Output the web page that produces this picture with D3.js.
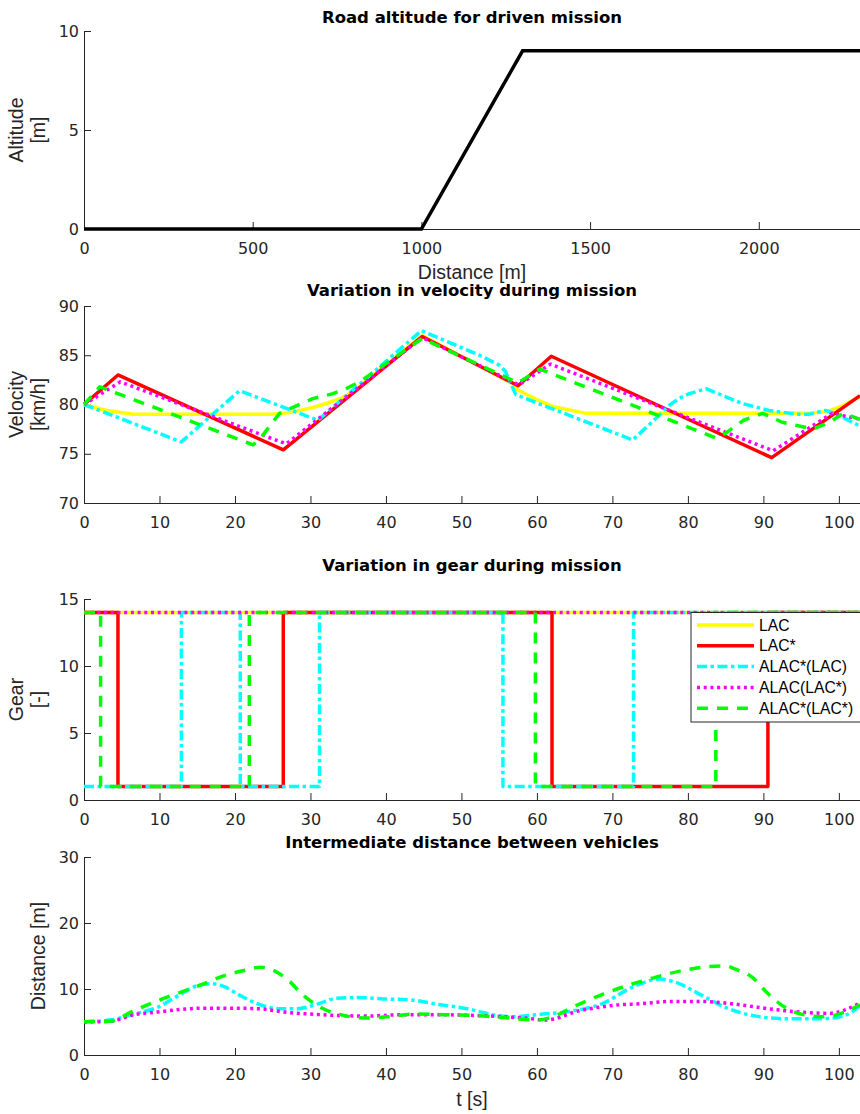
<!DOCTYPE html>
<html>
<head>
<meta charset="utf-8">
<script src="https://cdn.jsdelivr.net/npm/d3@7"></script>
<style>
	body { margin: 0; background: #fff; }
	svg { display: block; }
	.axis path, .axis line { stroke: #262626; stroke-width: 1; }
	.axis text { font-family: "DejaVu Sans", sans-serif; font-size: 16px; fill: #262626; }
	.title { font-family: "DejaVu Sans", sans-serif; font-weight: bold; font-size: 16.5px; fill: #000; }
	.label { font-family: "Liberation Sans", Arial, sans-serif; font-size: 19.5px; fill: #262626; }
	.legend text { font-family: "Liberation Sans", Arial, sans-serif; font-size: 15.7px; fill: #000; }
</style>
</head>
<body>
<svg id="chart" width="860" height="1114"></svg>
<script>
// road profile
const roadDistance = [0, 1000, 1300, 2300];
const roadAltitude = [0, 0, 9, 9];
const roadTicks = [0, 500, 1000, 1500, 2000];

const timeMax = 102.8;
const timeTicks = [0, 10, 20, 30, 40, 50, 60, 70, 80, 90, 100];

const seriesNames = ["LAC", "LAC*", "ALAC*(LAC)", "ALAC(LAC*)", "ALAC*(LAC*)"];

// velocity [km/h]
const lacSpeedT = [0, 3, 6.5, 24.8, 27.5, 30.3, 32.1, 34.3, 35.6, 44.8, 56.8, 57.4, 60, 62.1, 66.5, 96.0, 98.5, 100.3, 102.8];
const lacSpeedV = [80, 79.4, 79.0, 79.0, 79.2, 79.7, 80.1, 80.7, 81.3, 87.0, 82.1, 81.5, 80.5, 79.8, 79.1, 79.1, 79.3, 79.8, 80.8];
const lacStarSpeedT = [0, 4.5, 26.4, 44.8, 57.5, 61.9, 91.1, 102.8];
const lacStarSpeedV = [80, 83.0, 75.4, 86.9, 81.9, 84.9, 74.6, 80.9];
const alacStarLacSpeedT = [0, 12.9, 20.6, 31.0, 44.7, 52.4, 55.0, 55.8, 57.2, 72.7, 76.2, 77.5, 78.8, 80.2, 82.4, 87.2, 90.7, 94.7, 96.0, 98.2, 99.5, 102.8];
const alacStarLacSpeedV = [80, 76.2, 81.4, 78.4, 87.5, 85.0, 84.0, 83.4, 81.0, 76.4, 78.9, 79.9, 80.6, 81.1, 81.6, 80.1, 79.4, 79.0, 79.0, 79.4, 79.1, 77.8];
const alacLacStarSpeedT = [0, 4.8, 26.8, 44.8, 57.6, 61.8, 91.3, 99.1, 102.8];
const alacLacStarSpeedV = [80, 82.3, 76.0, 86.8, 82.0, 84.1, 75.3, 79.1, 78.5];
const alacStarLacStarSpeedT = [0, 2.1, 22.4, 23.3, 25.9, 30.3, 33.0, 34.7, 36.5, 44.8, 57.5, 60.4, 83.7, 85.0, 87.4, 89.9, 92.5, 96.6, 98.7, 100.6, 102.8];
const alacStarLacStarSpeedV = [80, 81.8, 75.9, 76.5, 79.1, 80.6, 81.1, 81.6, 82.3, 86.7, 82.2, 83.6, 76.6, 77.1, 78.4, 79.1, 78.2, 77.5, 78.2, 79.1, 78.5];

// gear: switch times and the gear engaged from that time on
const lacGearT = [0];
const lacGear = [14];
const lacStarGearT = [0, 4.5, 26.4, 62.0, 90.6];
const lacStarGear = [14, 1, 14, 1, 14];
const alacStarLacGearT = [0, 12.9, 20.7, 31.2, 55.5, 72.8];
const alacStarLacGear = [1, 14, 1, 14, 1, 14];
const alacLacStarGearT = [0];
const alacLacStarGear = [14];
const alacStarLacStarGearT = [0, 2.2, 21.9, 59.8, 83.7];
const alacStarLacStarGear = [14, 1, 14, 1, 14];

// distance to vehicle in front [m]
const alacStarLacGapT = [0, 3.5, 6.6, 9.7, 12.8, 15.0, 17.0, 18.5, 20.7, 23.4, 26.0, 28.2, 30.9, 33.5, 36.2, 39.7, 43.7, 46.7, 49.8, 51.6, 54.6, 56.8, 60.8, 64.3, 68.7, 72.7, 76.2, 78.4, 81.9, 85.0, 88.5, 92.9, 97.7, 99.9, 101.7, 102.8];
const alacStarLacGapD = [5.05, 5.3, 6.2, 7.2, 9.2, 10.5, 10.8, 10.4, 9.0, 7.6, 7.0, 7.0, 7.7, 8.6, 8.7, 8.5, 8.3, 7.7, 7.2, 6.8, 6.0, 5.8, 6.2, 6.6, 7.8, 10.3, 11.5, 11.0, 9.0, 7.2, 6.0, 5.5, 5.5, 5.7, 6.5, 7.5];
const alacLacStarGapT = [0, 3.5, 6.6, 9.7, 12.8, 15.9, 19.8, 23.4, 26.5, 30.0, 33.5, 37.5, 41.9, 46.3, 51.6, 55.5, 58.5, 61.2, 65.6, 70.0, 74.0, 77.5, 81.9, 86.3, 90.7, 95.0, 98.6, 101.2, 102.8];
const alacLacStarGapD = [5.0, 5.1, 6.1, 6.5, 6.9, 7.1, 7.1, 7.0, 6.5, 6.2, 6.0, 5.9, 6.1, 6.1, 6.0, 5.8, 5.6, 5.3, 6.7, 7.5, 7.8, 8.1, 8.1, 7.7, 7.0, 6.5, 6.3, 7.0, 7.9];
const alacStarLacStarGapT = [0, 3.5, 6.2, 9.7, 12.8, 15.9, 18.5, 21.2, 23.4, 24.7, 26.9, 29.1, 31.7, 34.4, 37.5, 40.1, 44.1, 47.6, 51.6, 56.3, 59.9, 62.1, 65.2, 68.7, 72.2, 75.8, 79.3, 82.8, 85.0, 86.3, 88.5, 90.7, 92.9, 95.0, 97.7, 99.4, 101.2, 102.8];
const alacStarLacStarGapD = [5.05, 5.1, 6.5, 8.2, 9.5, 10.8, 12.0, 12.8, 13.3, 13.0, 11.5, 9.0, 7.0, 6.0, 5.6, 5.8, 6.2, 6.1, 6.0, 5.6, 5.3, 5.8, 7.5, 9.2, 10.6, 11.8, 12.8, 13.4, 13.5, 13.0, 11.8, 9.2, 7.2, 6.2, 5.8, 6.0, 6.7, 7.6];

// line styles per controller
const styles = {
	"LAC": { color: "#ffff00", dash: null },
	"LAC*": { color: "#ff0000", dash: null },
	"ALAC*(LAC)": { color: "#00ffff", dash: "10,3.5,3.5,3.5" },
	"ALAC(LAC*)": { color: "#ff00ff", dash: "3,3.7" },
	"ALAC*(LAC*)": { color: "#00ff00", dash: "11,9" },
};
const lineWidth = 3.5;

const plotLeft = 84;
const plotRight = 860;
const svg = d3.select("#chart");

function drawPanel(cfg) {
	const x = d3.scaleLinear().domain(cfg.xDomain).range([plotLeft, plotRight]);
	const y = d3.scaleLinear().domain(cfg.yDomain).range([cfg.bottom, cfg.top]);
	const g = svg.append("g");

	g.append("g")
		.attr("class", "axis")
		.attr("transform", `translate(0,${cfg.bottom})`)
		.call(d3.axisBottom(x).tickValues(cfg.xTicks).tickFormat(d3.format("d"))
			.tickSizeInner(-7).tickSizeOuter(0).tickPadding(14));

	g.append("g")
		.attr("class", "axis")
		.attr("transform", `translate(${plotLeft},0)`)
		.call(d3.axisLeft(y).tickValues(cfg.yTicks).tickFormat(d3.format("d"))
			.tickSizeInner(-7).tickSizeOuter(0).tickPadding(5));

	g.append("text")
		.attr("class", "title")
		.attr("x", (plotLeft + plotRight) / 2)
		.attr("y", cfg.titleY)
		.attr("text-anchor", "middle")
		.text(cfg.title);

	// y label, one or two lines
	const cy = (cfg.top + cfg.bottom) / 2;
	const yl = cfg.yLabel;
	yl.forEach((line, i) => {
		const bx = yl.length === 1 ? 45 : (i === 0 ? 23 : 45);
		g.append("text")
			.attr("class", "label")
			.attr("transform", `translate(${bx},${cy}) rotate(-90)`)
			.attr("text-anchor", "middle")
			.text(line);
	});

	if (cfg.xLabel) {
		g.append("text")
			.attr("class", "label")
			.attr("x", (plotLeft + plotRight) / 2)
			.attr("y", cfg.xLabelY)
			.attr("text-anchor", "middle")
			.text(cfg.xLabel);
	}

	return { g, x, y };
}

function drawSeries(p, name, xs, ys, curve) {
	const st = styles[name];
	const line = d3.line()
		.x((d) => p.x(d[0]))
		.y((d) => p.y(d[1]))
		.curve(curve || d3.curveLinear);
	p.g.append("path")
		.datum(d3.zip(xs, ys))
		.attr("fill", "none")
		.attr("stroke", st.color)
		.attr("stroke-width", lineWidth)
		.attr("stroke-linejoin", "round")
		.attr("stroke-dasharray", st.dash)
		.attr("d", line);
}

// ROAD ALTITUDE
const road = drawPanel({
	xDomain: [0, 2300], xTicks: roadTicks,
	yDomain: [0, 10], yTicks: [0, 5, 10],
	top: 31, bottom: 229,
	title: "Road altitude for driven mission", titleY: 22.5,
	yLabel: ["Altitude", "[m]"],
	xLabel: "Distance [m]", xLabelY: 279,
});
road.g.append("path")
	.datum(d3.zip(roadDistance, roadAltitude))
	.attr("fill", "none")
	.attr("stroke", "#000")
	.attr("stroke-width", lineWidth)
	.attr("d", d3.line().x((d) => road.x(d[0])).y((d) => road.y(d[1])));

// VELOCITY
const speed = drawPanel({
	xDomain: [0, timeMax], xTicks: timeTicks,
	yDomain: [70, 90], yTicks: [70, 75, 80, 85, 90],
	top: 306, bottom: 503,
	title: "Variation in velocity during mission", titleY: 296,
	yLabel: ["Velocity", "[km/h]"],
});
drawSeries(speed, "LAC", lacSpeedT, lacSpeedV);
drawSeries(speed, "LAC*", lacStarSpeedT, lacStarSpeedV);
drawSeries(speed, "ALAC*(LAC)", alacStarLacSpeedT, alacStarLacSpeedV);
drawSeries(speed, "ALAC(LAC*)", alacLacStarSpeedT, alacLacStarSpeedV);
drawSeries(speed, "ALAC*(LAC*)", alacStarLacStarSpeedT, alacStarLacStarSpeedV);

// GEAR
const gear = drawPanel({
	xDomain: [0, timeMax], xTicks: timeTicks,
	yDomain: [0, 15], yTicks: [0, 5, 10, 15],
	top: 599, bottom: 800,
	title: "Variation in gear during mission", titleY: 571,
	yLabel: ["Gear", "[-]"],
});
const gearRuns = [
	["LAC", lacGearT, lacGear],
	["LAC*", lacStarGearT, lacStarGear],
	["ALAC*(LAC)", alacStarLacGearT, alacStarLacGear],
	["ALAC(LAC*)", alacLacStarGearT, alacLacStarGear],
	["ALAC*(LAC*)", alacStarLacStarGearT, alacStarLacStarGear],
];
gearRuns.forEach(([name, ts, gs]) => {
	drawSeries(gear, name, ts.concat([timeMax]), gs.concat([gs[gs.length - 1]]), d3.curveStepAfter);
});

// legend (northeast, runs past the right edge)
const legend = gear.g.append("g")
	.attr("class", "legend")
	.attr("transform", "translate(691,612.5)");
legend.append("rect")
	.attr("width", 200)
	.attr("height", 109.5)
	.attr("fill", "#fff")
	.attr("stroke", "#262626")
	.attr("stroke-width", 1);
seriesNames.forEach((name, i) => {
	const cy = 12.5 + i * 20.8;
	legend.append("line")
		.attr("x1", 6).attr("x2", 63)
		.attr("y1", cy).attr("y2", cy)
		.attr("stroke", styles[name].color)
		.attr("stroke-width", lineWidth)
		.attr("stroke-dasharray", styles[name].dash);
	legend.append("text")
		.attr("x", 68)
		.attr("y", cy + 5.6)
		.text(name);
});

// INTER-VEHICLE DISTANCE
const gap = drawPanel({
	xDomain: [0, timeMax], xTicks: timeTicks,
	yDomain: [0, 30], yTicks: [0, 10, 20, 30],
	top: 857, bottom: 1055,
	title: "Intermediate distance between vehicles", titleY: 848,
	yLabel: ["Distance [m]"],
	xLabel: "t [s]", xLabelY: 1106,
});
drawSeries(gap, "ALAC*(LAC)", alacStarLacGapT, alacStarLacGapD, d3.curveMonotoneX);
drawSeries(gap, "ALAC(LAC*)", alacLacStarGapT, alacLacStarGapD, d3.curveMonotoneX);
drawSeries(gap, "ALAC*(LAC*)", alacStarLacStarGapT, alacStarLacStarGapD, d3.curveMonotoneX);
</script>
</body>
</html>
